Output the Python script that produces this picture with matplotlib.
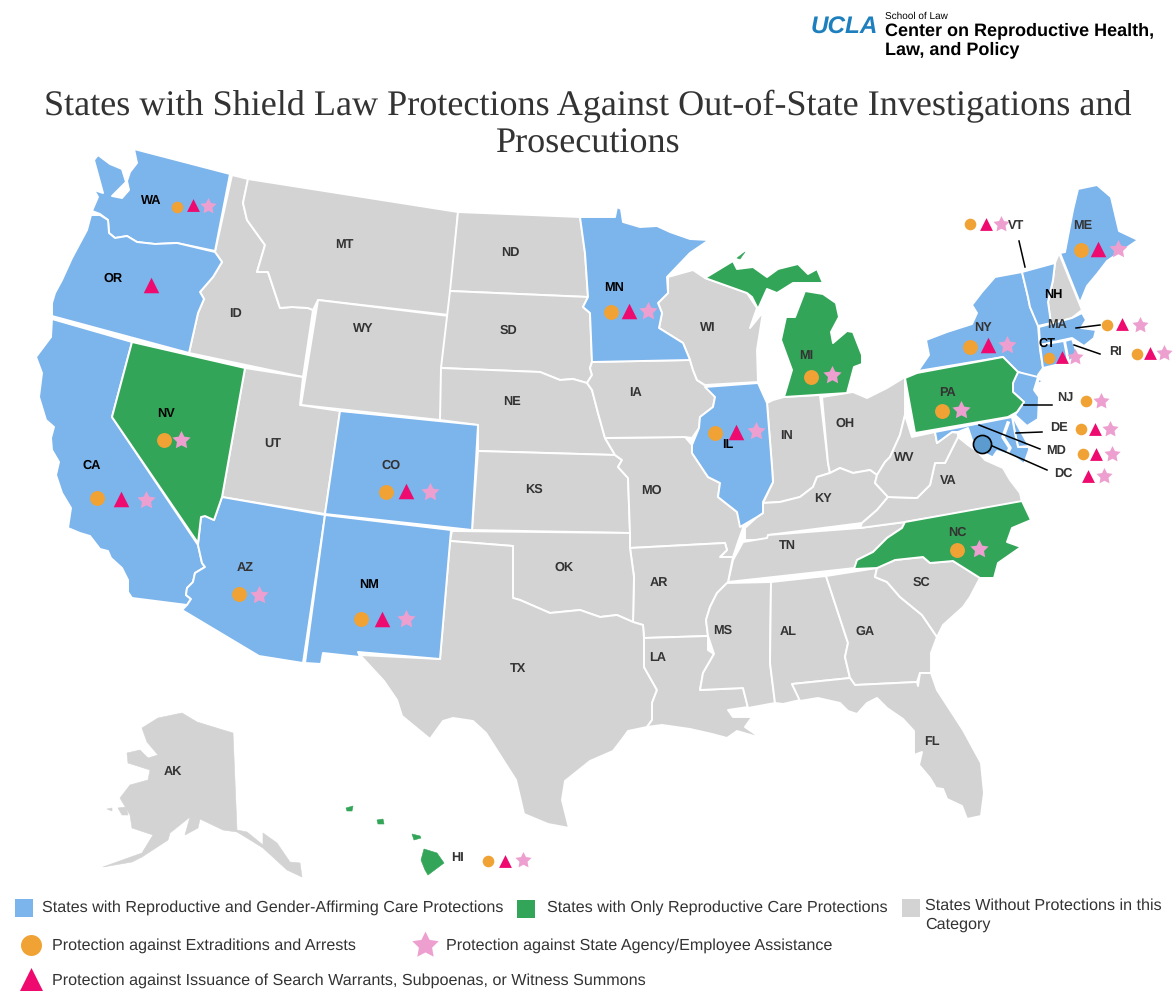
import matplotlib
matplotlib.use("Agg")
import matplotlib.pyplot as plt
from matplotlib.path import Path

WA = [(134,149),(230,174),(215,251),(177,243),(155,244),(137,242),(127,236),(115,238),(109,233),(108,220),(100,214),(92,211),(98,197),(94,190),(103,193),(94,160),(98,155),(110,164),(122,169),(126,182),(112,196),(122,198),(129,190),(127,181),(130,172),(137,163)]
OR = [(91,215),(100,215),(108,220),(109,233),(115,238),(127,236),(137,242),(155,244),(177,243),(215,252),(222,262),(213,277),(200,292),(204,299),(198,313),(189,353),(52,316),(52,303),(55,293),(62,280),(72,258),(87,230)]
CA = [(52,319),(132,342),(112,417),(198,545),(202,563),(205,567),(195,573),(193,582),(187,588),(186,595),(191,599),(187,605),(132,598),(128,592),(128,580),(122,568),(111,558),(108,551),(100,549),(90,536),(80,533),(68,528),(71,508),(62,493),(56,475),(59,462),(52,450),(51,438),(54,427),(46,420),(39,397),(42,373),(36,357),(51,337)]
NV = [(132,342),(245,368),(222,497),(214,520),(205,516),(201,517),(198,543),(112,417)]
ID = [(232,175),(248,179),(243,203),(247,220),(265,245),(257,272),(268,272),(280,308),(292,307),(308,308),(313,310),(303,377),(189,353),(198,313),(204,299),(200,292),(213,277),(222,262),(215,252)]
MT = [(248,179),(458,212),(449,315),(318,300),(313,310),(308,308),(292,307),(280,308),(268,272),(257,272),(265,245),(247,220),(243,203)]
WY = [(318,300),(449,316),(440,420),(301,405)]
UT = [(245,368),(303,377),(300,405),(340,411),(325,514),(222,497)]
CO = [(340,411),(478,425),(472,530),(325,514)]
NM = [(325,515),(451,530),(440,659),(358,652),(360,657),(323,653),(321,664),(305,663)]
AZ = [(222,497),(325,515),(303,663),(259,656),(182,610),(187,605),(191,599),(186,595),(187,588),(193,582),(195,573),(205,567),(202,563),(198,545),(201,517),(205,516),(214,520)]
ND = [(458,212),(580,217),(585,253),(588,297),(450,291)]
SD = [(450,291),(588,297),(583,307),(590,313),(592,362),(590,368),(592,375),(587,383),(573,379),(560,380),(540,372),(441,368)]
NE = [(441,368),(540,372),(560,380),(573,379),(587,383),(592,390),(598,413),(605,438),(615,455),(478,451),(478,425),(440,420)]
KS = [(478,451),(615,455),(622,460),(618,467),(628,478),(630,533),(472,530)]
MO = [(615,455),(605,438),(685,437),(692,445),(692,453),(708,477),(720,483),(718,497),(737,512),(743,528),(738,542),(733,557),(720,557),(727,550),(725,543),(630,548),(630,533),(628,478),(618,467),(622,460)]
IA = [(592,362),(690,360),(693,370),(697,380),(707,387),(715,397),(713,407),(700,417),(699,428),(692,438),(685,437),(605,438),(598,413),(592,390),(587,383),(592,375),(590,368)]
MN = [(580,217),(615,217),(617,207),(621,209),(623,222),(640,227),(657,226),(670,232),(690,239),(709,240),(690,253),(667,277),(668,293),(658,303),(662,313),(659,328),(683,343),(690,360),(592,362),(590,313),(583,307),(588,297),(585,253)]
WI = [(668,277),(693,270),(705,278),(747,293),(757,308),(750,328),(763,312),(757,350),(758,382),(705,385),(697,380),(693,370),(690,360),(683,343),(659,328),(662,313),(658,303),(668,293)]
IL = [(705,387),(758,383),(767,403),(772,467),(773,482),(763,502),(763,513),(757,517),(740,527),(737,512),(718,497),(720,483),(708,477),(692,453),(692,445),(699,428),(700,417),(713,407),(715,397)]
IN = [(767,403),(773,400),(784,397),(820,395),(828,463),(830,473),(817,477),(813,487),(800,497),(780,502),(763,503),(773,482),(772,467)]
OH = [(822,397),(853,392),(867,398),(887,388),(905,377),(905,415),(900,435),(890,457),(885,462),(877,475),(870,470),(853,473),(840,468),(830,473),(828,463)]
KY = [(763,503),(780,502),(800,497),(813,487),(817,477),(830,473),(840,468),(853,473),(870,470),(877,475),(875,483),(888,497),(877,510),(862,523),(768,535),(768,540),(745,540),(745,528),(757,517),(763,513)]
TN = [(743,542),(767,538),(768,535),(860,528),(905,522),(902,528),(887,538),(873,552),(857,560),(855,568),(728,582),(733,560)]
AR = [(630,548),(725,543),(727,550),(720,557),(733,557),(728,582),(717,593),(710,607),(706,620),(708,636),(644,638),(643,625),(633,622),(634,577)]
OK = [(452,531),(630,533),(630,548),(634,577),(633,622),(617,615),(600,617),(580,610),(550,613),(520,600),(513,598),(513,546),(450,541)]
TX = [(450,541),(513,546),(513,598),(520,600),(550,613),(580,610),(600,617),(617,615),(633,622),(643,625),(644,638),(644,667),(657,690),(652,703),(652,720),(647,727),(628,731),(623,738),(613,751),(590,761),(565,781),(562,800),(569,828),(548,824),(524,814),(516,780),(486,733),(473,721),(453,718),(443,721),(430,739),(402,716),(397,700),(384,681),(360,655),(440,659)]
LA = [(644,638),(708,636),(708,650),(714,654),(703,673),(700,690),(743,688),(748,707),(728,710),(733,717),(752,717),(745,727),(761,738),(737,731),(727,738),(712,734),(690,729),(662,725),(647,727),(652,720),(652,703),(657,690),(644,667)]
MS = [(727,583),(771,582),(770,663),(775,703),(748,708),(743,688),(700,690),(703,673),(714,654),(708,636),(706,620),(710,607),(717,593)]
AL = [(771,582),(826,576),(848,643),(845,657),(850,678),(792,684),(800,700),(783,704),(775,703),(770,663)]
GA = [(826,576),(877,568),(875,577),(887,582),(900,597),(922,615),(937,637),(931,653),(931,673),(920,673),(917,682),(855,685),(850,678),(845,657),(848,643)]
FL = [(792,684),(850,678),(855,685),(917,682),(918,686),(920,673),(931,673),(937,690),(963,730),(981,763),(984,793),(981,816),(967,819),(962,806),(947,799),(943,789),(936,788),(930,778),(919,765),(922,752),(914,755),(914,731),(903,719),(887,708),(877,698),(867,703),(857,714),(848,711),(840,703),(818,698),(800,701)]
SC = [(877,568),(895,560),(923,557),(930,563),(953,561),(980,578),(970,597),(963,607),(943,625),(937,637),(922,615),(900,597),(887,582),(875,577)]
NC = [(905,522),(1022,501),(1031,520),(1012,528),(1007,542),(1021,547),(998,563),(994,578),(980,578),(953,561),(930,563),(923,557),(895,560),(877,568),(854,569),(857,560),(873,552),(887,538),(902,528)]
VA = [(862,523),(877,510),(888,497),(917,498),(930,485),(935,463),(945,463),(958,437),(968,445),(978,452),(985,460),(1003,468),(1010,480),(1020,493),(1022,502),(905,522),(860,528)]
WV = [(905,415),(912,437),(935,432),(937,443),(952,432),(958,433),(958,437),(945,463),(935,463),(930,485),(917,498),(888,497),(875,483),(877,475),(885,462),(890,457),(900,435)]
MD = [(935,432),(1012,417),(1015,433),(1018,447),(1029,447),(1029,450),(1024,464),(1013,456),(997,451),(993,457),(1000,461),(980,451),(972,440),(968,428),(958,432),(952,432),(937,443)]
DE = [(1012,415),(1015,433),(1018,447),(1029,446),(1020,430)]
NJ = [(1018,372),(1038,377),(1034,390),(1039,397),(1038,419),(1027,426),(1015,415),(1024,402),(1013,392),(1013,382)]
PA = [(905,378),(917,373),(1003,357),(1018,372),(1013,383),(1013,392),(1024,402),(1017,412),(1008,417),(915,433)]
NY = [(918,371),(929,355),(926,340),(947,332),(972,324),(977,313),(972,305),(982,292),(995,277),(1022,272),(1028,297),(1030,307),(1038,325),(1040,350),(1043,368),(1038,375),(1038,384),(1068,367),(1041,380),(1018,372),(1003,357)]
VT = [(1022,272),(1055,263),(1053,280),(1048,302),(1051,323),(1038,326),(1030,307),(1028,297)]
NH = [(1059,253),(1080,305),(1082,310),(1072,318),(1051,324),(1048,302),(1053,280),(1055,263)]
ME = [(1060,253),(1065,252),(1073,210),(1078,189),(1097,185),(1111,197),(1119,231),(1138,240),(1107,261),(1097,274),(1087,286),(1080,303)]
MA = [(1039,327),(1072,318),(1082,313),(1086,320),(1081,328),(1096,330),(1094,338),(1084,346),(1072,338),(1040,345)]
CT = [(1040,345),(1064,341),(1068,362),(1043,368)]
RI = [(1065,341),(1072,339),(1077,353),(1069,362)]
MI_LOWER = [(784,397),(792,370),(781,340),(786,317),(795,317),(805,291),(823,294),(836,303),(839,317),(831,332),(833,343),(847,331),(853,332),(862,355),(862,364),(854,367),(847,393)]
MI_UPPER = [(705,278),(733,261),(737,269),(753,267),(767,277),(778,269),(798,264),(808,274),(817,269),(823,283),(793,283),(777,293),(767,289),(758,309),(752,297),(747,293)]
MI_ISLE = [(737,258),(745,252),(740,259)]
AK = [(142,728),(158,718),(182,713),(197,722),(223,730),(233,733),(237,830),(247,832),(263,845),(263,833),(277,843),(290,862),(300,863),(302,877),(287,870),(263,848),(247,838),(237,832),(223,830),(200,819),(198,828),(185,835),(190,817),(170,833),(168,840),(142,857),(132,862),(103,867),(142,853),(153,835),(132,828),(130,815),(120,798),(130,785),(148,780),(150,770),(128,763),(127,753),(140,750),(148,758),(158,755),(147,742)]
AK_NUNIVAK = [(118,808),(126,807),(128,815),(122,815)]
AK_LAWRENCE = [(107,809),(112,808),(112,811)]
HI_BIG = [(424,849),(437,853),(444,863),(428,875),(425,870),(421,860)]
HI_MAUI = [(412,834),(420,836),(421,838),(414,840)]
HI_OAHU = [(377,820),(383,819),(384,824),(378,824)]
HI_KAUAI = [(346,808),(353,806),(352,811),(347,811)]

BLUE_STATES = [WA, OR, CA, AZ, NM, CO, MN, IL, NY, VT, ME, MA, CT, RI, NJ, DE, MD]
GREEN_STATES = [NV, MI_LOWER, MI_UPPER, PA, NC]
GREEN_ISLANDS = [MI_ISLE, HI_BIG, HI_MAUI, HI_OAHU, HI_KAUAI]
GRAY_STATES = [ID, MT, WY, UT, ND, SD, NE, KS, MO, IA, WI, IN, OH, KY, TN, AR, OK, TX, LA, MS, AL, GA, FL, SC, VA, WV, NH]
GRAY_ISLANDS = [AK, AK_NUNIVAK, AK_LAWRENCE]

# state label, x, y
DARK_LABELS = [("ID",236,314),("MT",344,245),("ND",510,253),("SD",508,331),("WY",363,329),("NE",512,402),("UT",273,445),
               ("CO",391,466),("KS",534,490),("IA",636,393),("WI",708,328),("IN",787,436),("MI",806,356),("OH",845,424),
               ("MO",651,491),("KY",823,499),("WV",904,458),("VA",948,481),("TN",787,546),("NC",957,533),("SC",921,583),
               ("AR",659,583),("OK",564,568),("TX",518,669),("LA",658,658),("MS",723,631),("AL",788,632),("GA",865,632),
               ("FL",932,742),("AZ",245,568),("AK",173,772),("HI",458,858),("PA",947,393),("NY",983,328),("ME",1083,226),
               ("VT",1016,226),("MA",1057,325),("RI",1116,352),("NJ",1065,399),("DE",1059,428),("MD",1056,451),("DC",1063,474)]
BLACK_LABELS = [("WA",151,201),("OR",113,279),("CA",92,466),("NV",166,414),("MN",614,288),("NM",369,585),("IL",728,445),
                ("NH",1053,295),("CT",1047,344)]

# marker positions per protection
EXTRADITION = [("WA",177,207),("CA",97,498),("NV",164,440),("AZ",239,594),("NM",361,619),("CO",386,492),("MN",611,312),
               ("IL",715,433),("MI",811,377),("PA",942,411),("NC",957,550),("NY",970,347),("ME",1081,250),("VT",970,224),
               ("MA",1107,325),("CT",1049,358),("RI",1137,354),("NJ",1086,401),("DE",1081,429),("MD",1083,454),("HI",488,861)]
WARRANTS = [("WA",193,205),("OR",151,285),("CA",121,499),("NM",382,619),("CO",406,491),("MN",629,311),("IL",736,432),
            ("NY",988,345),("ME",1098,249),("VT",986,224),("MA",1122,324),("CT",1062,357),("RI",1150,353),("DE",1095,429),
            ("MD",1096,454),("DC",1088,476),("HI",505,861)]
AGENCY = [("WA",208,206),("CA",146,500),("NV",181,440),("AZ",259,595),("NM",406,619),("CO",430,492),("MN",648,311),
          ("IL",756,431),("MI",832,375),("PA",961,410),("NC",979,549),("NY",1007,345),("ME",1118,249),("VT",1001,224),
          ("MA",1140,325),("CT",1075,357),("RI",1164,353),("NJ",1101,401),("DE",1110,429),("MD",1112,454),("DC",1104,476),
          ("HI",523,860)]
SMALL_MARKERS = ["WA", "VT", "MA", "CT", "RI", "NJ", "DE", "MD", "DC", "HI"]

LEADERS = [((1019,241),(1025,267)),((1076,328),(1100,325)),((1074,345),(1100,354)),((1024,405),(1052,405)),
           ((1016,433),(1042,432)),((979,425),(1040,449)),((990,445),(1047,470))]

TITLE = "States with Shield Law Protections Against Out-of-State Investigations and\nProsecutions"
LEGEND_BLUE = "States with Reproductive and Gender-Affirming Care Protections"
LEGEND_GREEN = "States with Only Reproductive Care Protections"
LEGEND_GRAY = "States Without Protections in this\nCategory"
LEGEND_CIRCLE = "Protection against Extraditions and Arrests"
LEGEND_STAR = "Protection against State Agency/Employee Assistance"
LEGEND_TRIANGLE = "Protection against Issuance of Search Warrants, Subpoenas, or Witness Summons"

BLUE = "#7CB4EC"
GREEN = "#33A558"
GRAY = "#D3D3D3"
ORANGE = "#F0A234"
MAGENTA = "#EE0A6E"
PINK = "#EDA0D0"
TEXT = "#333333"

plt.rcParams["font.family"] = ["Liberation Sans", "DejaVu Sans"]
plt.rcParams["text.hinting"] = "no_hinting"

fig = plt.figure(figsize=(11.75, 10), dpi=100)
ax = fig.add_axes([0, 0, 1, 1])
ax.set_xlim(0, 1175)
ax.set_ylim(1000, 0)
ax.axis("off")

star = Path.unit_regular_star(5, innerCircle=0.5)


def draw_states(states, color, edge="white", width=1.4):
    for outline in states:
        xs = [p[0] for p in outline]
        ys = [p[1] for p in outline]
        ax.fill(xs, ys, facecolor=color, edgecolor=edge, linewidth=width, joinstyle="round", zorder=2)


draw_states(GRAY_STATES, GRAY)
draw_states(GRAY_ISLANDS, GRAY, edge=GRAY, width=0.4)
draw_states(BLUE_STATES, BLUE)
draw_states(GREEN_STATES, GREEN)
draw_states(GREEN_ISLANDS, GREEN, edge=GREEN, width=0.4)

# Chesapeake bay
ax.plot([1008,1003,1010,1005], [423,437,448,458], color="white", lw=2.5, zorder=3)

for a, b in LEADERS:
    ax.plot([a[0], b[0]], [a[1], b[1]], color="black", lw=1.1, zorder=4)
ax.scatter([982], [444], s=170, color="#5B9BD0", edgecolor="black", linewidth=1.2, zorder=5)


def draw_markers(points, marker, color, big, small):
    for state, x, y in points:
        size = small if state in SMALL_MARKERS else big
        ax.scatter([x], [y], s=size, marker=marker, color=color, linewidth=0, zorder=6)


draw_markers(EXTRADITION, "o", ORANGE, 115, 70)
draw_markers(WARRANTS, "^", MAGENTA, 125, 85)
draw_markers(AGENCY, star, PINK, 190, 150)

for name, x, y in DARK_LABELS:
    ax.text(x, y, name, fontsize=9.2, fontweight="bold", color=TEXT, ha="center", va="center", zorder=7)
for name, x, y in BLACK_LABELS:
    ax.text(x, y, name, fontsize=9.2, fontweight="bold", color="black", ha="center", va="center", zorder=7)

ax.text(588, 125, TITLE, fontsize=26, family=["Liberation Serif"], color=TEXT, ha="center", va="center", linespacing=1.2)

# logo
ax.text(811, 28, "UCLA", fontsize=17.5, fontweight="bold", style="italic", color="#1E7FBF", ha="left", va="center")
ax.text(885, 16, "School of Law", fontsize=7.2, color="black", ha="left", va="center")
ax.text(885, 31, "Center on Reproductive Health,", fontsize=13, fontweight="bold", color="black", ha="left", va="center")
ax.text(885, 50, "Law, and Policy", fontsize=13, fontweight="bold", color="black", ha="left", va="center")

# legend
ax.scatter([24], [908], s=185, marker="s", color=BLUE, linewidth=0)
ax.scatter([526], [909], s=170, marker="s", color=GREEN, linewidth=0)
ax.scatter([911], [908], s=185, marker="s", color=GRAY, linewidth=0)
ax.scatter([31], [945], s=228, marker="o", color=ORANGE, linewidth=0)
ax.scatter([425], [945], s=400, marker=star, color=PINK, linewidth=0)
ax.scatter([31], [979], s=274, marker="^", color=MAGENTA, linewidth=0)

ax.text(42, 908, LEGEND_BLUE, fontsize=11.65, color=TEXT, va="center")
ax.text(547, 908, LEGEND_GREEN, fontsize=11.65, color=TEXT, va="center")
ax.text(925, 915, LEGEND_GRAY, fontsize=11.65, color=TEXT, va="center", linespacing=1.3)
ax.text(52, 946, LEGEND_CIRCLE, fontsize=11.65, color=TEXT, va="center")
ax.text(446, 946, LEGEND_STAR, fontsize=11.65, color=TEXT, va="center")
ax.text(52, 981, LEGEND_TRIANGLE, fontsize=11.65, color=TEXT, va="center")

fig.savefig("out.png", dpi=100)
